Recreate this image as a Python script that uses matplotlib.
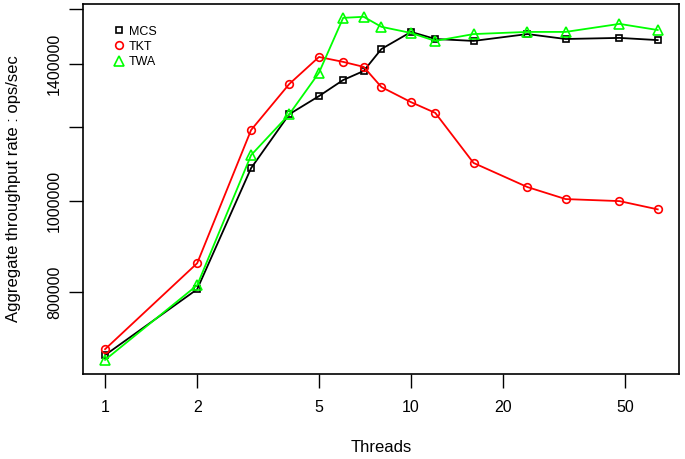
import matplotlib
matplotlib.use("Agg")
import matplotlib.pyplot as plt
from matplotlib.lines import Line2D
from matplotlib.ticker import FixedLocator, FixedFormatter, NullLocator

plt.rcParams['font.family'] = ['Liberation Sans', 'DejaVu Sans']

threads = [1, 2, 3, 4, 5, 6, 7, 8, 10, 12, 16, 24, 32, 48, 64]
mcs = [686000, 806000, 1084000, 1237000, 1293000, 1345000, 1375000, 1451000,
       1513000, 1487000, 1480000, 1505000, 1487000, 1491000, 1483000]
tkt = [696000, 859000, 1190000, 1332000, 1423000, 1406000, 1389000, 1322000,
       1274000, 1241000, 1098000, 1035000, 1005000, 1000000, 980000]
twa = [678000, 814000, 1119000, 1237000, 1369000, 1566000, 1570000, 1532000,
       1509000, 1480000, 1505000, 1513000, 1513000, 1543000, 1520000]

x_ticks = [1, 2, 5, 10, 20, 50]
y_ticks = [800000, 1000000, 1200000, 1400000, 1600000]
y_labels = ['800000', '1000000', '', '1400000', '']

fig = plt.figure(figsize=(6.85, 4.59), dpi=100)
ax = fig.add_axes([0.1212, 0.1852, 0.87, 0.8061])

# name, colour, marker, marker size
series = [(mcs, 'MCS', 'black', 's', 5), (tkt, 'TKT', '#FF0000', 'o', 5.5),
          (twa, 'TWA', '#00FF00', '^', 7)]
for vals, name, col, mk, size in series:
    ax.plot(threads, vals, color=col, lw=1.3, marker=mk, ms=size, mfc='none',
            mec=col, mew=1.2, label=name)

ax.set_xscale('log')
ax.set_yscale('log')
ax.set_xlim(0.847, 75.1)
ax.set_ylim(655000, 1620000)

ax.xaxis.set_major_locator(FixedLocator(x_ticks))
ax.xaxis.set_major_formatter(FixedFormatter([str(t) for t in x_ticks]))
ax.xaxis.set_minor_locator(NullLocator())
ax.yaxis.set_major_locator(FixedLocator(y_ticks))
ax.yaxis.set_major_formatter(FixedFormatter(y_labels))
ax.yaxis.set_minor_locator(NullLocator())

ax.tick_params(axis='both', direction='out', length=10, width=1, labelsize=11.5)
ax.tick_params(axis='x', pad=9)
ax.tick_params(axis='y', pad=5)
plt.setp(ax.get_yticklabels(), rotation=90, va='center')
for s in ax.spines.values():
    s.set_linewidth(1.2)

ax.set_xlabel('Threads', fontsize=12, labelpad=18)
ax.set_ylabel('Aggregate throughput rate : ops/sec', fontsize=12, labelpad=19)

handles = [Line2D([], [], color=col, marker=mk, ls='none', ms=size, mfc='none', mew=1.2)
           for vals, name, col, mk, size in series]
ax.legend(handles, [s[1] for s in series], loc='upper left', bbox_to_anchor=(0.035, 0.965),
          frameon=False, fontsize=9, handlelength=1, handletextpad=0.3,
          labelspacing=0.25, borderpad=0.2)

fig.savefig('out.png', dpi=100, facecolor='white')
